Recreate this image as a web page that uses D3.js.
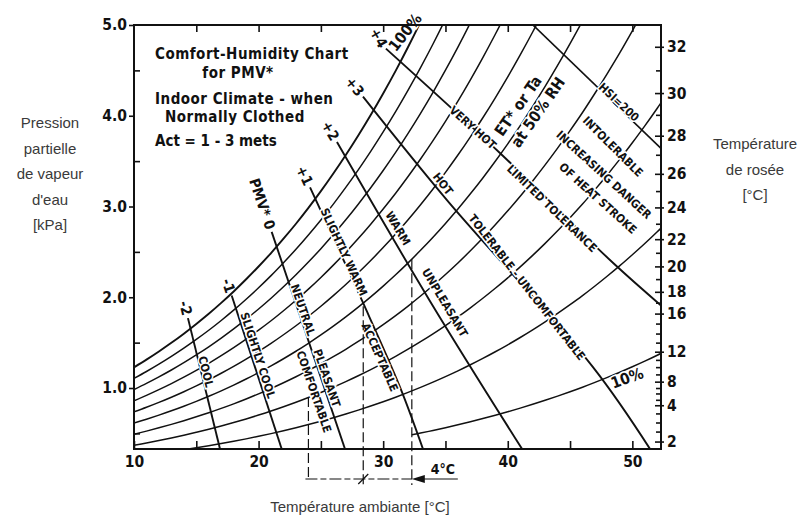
<!DOCTYPE html>
<html><head><meta charset="utf-8">
<script src="https://cdn.jsdelivr.net/npm/d3@7/dist/d3.min.js"></script>
<style>body{margin:0;background:#fff}svg{display:block}</style>
</head><body>
<svg id="c" width="812" height="518"></svg>
<script>
// ---------- data ----------
const tempTicks = [10, 20, 30, 40, 50];
const tempAllTicks = [10, 15, 20, 25, 30, 35, 40, 45, 50];
const pressTicks = [1.0, 2.0, 3.0, 4.0, 5.0];
const pressMinor = [0.5, 1.5, 2.5, 3.5, 4.5];
const dewLabels = ["32","30","28","26","24","22","20","18","16","12","8","4","2"];
const dewKPa = [4.76, 4.25, 3.78, 3.36, 2.99, 2.64, 2.34, 2.06, 1.82, 1.40, 1.07, 0.81, 0.41];
const dewMinorKPa = [4.50, 4.01, 3.57, 3.17, 2.81, 2.49, 2.20, 1.94, 1.71, 1.60, 1.50, 1.31, 1.23, 1.15, 1.00, 0.94, 0.87, 0.72, 0.62, 0.52];
// saturation vapour pressure table (kPa)
const satT = [10,11,12,13,14,15,16,17,18,19,20,21,22,23,24,25,26,27,28,29,30,31,32,33,34,35,36,37,38,39,40,41,42,43,44,45,46,47,48,49,50,51,52,53];
const satP = [1.228,1.313,1.403,1.498,1.599,1.706,1.818,1.938,2.064,2.198,2.339,2.487,2.645,2.810,2.985,3.169,3.363,3.567,3.782,4.008,4.246,4.495,4.758,5.034,5.323,5.627,5.945,6.280,6.630,6.997,7.381,7.784,8.205,8.646,9.108,9.590,10.09,10.62,11.17,11.74,12.34,12.96,13.61,14.29];
const rhLevels = [100, 90, 80, 70, 60, 50, 40, 30, 20, 10];
const rhStartT = [10, 10, 10, 10, 10, 10, 10, 10, 10, 32.3];
// PMV* lines (T °C, p kPa)
const pmvNames = ["-2", "-1", "PMV* 0", "+1", "+2", "+3", "+4"];
const pmvLines = [
  [[14.33, 1.77], [16.90, 0.33]],
  [[17.84, 2.02], [21.85, 0.33]],
  [[21.05, 2.72], [26.93, 0.33]],
  [[24.13, 3.21], [28.38, 1.94], [31.35, 1.01], [33.19, 0.33]],
  [[26.29, 3.71], [33.75, 1.96], [41.14, 0.33]],
  [[28.38, 4.21], [35.12, 3.07], [46.84, 1.23], [51.41, 0.33]],
  [[30.22, 4.74], [39.37, 3.59], [48.44, 2.38], [52.3, 1.91]]
];
const hsiLine = [[42.02, 5.0], [52.3, 3.64]];
const dashT = [24.0, 28.4, 32.3];
const dashTopP = [0.90, 1.90, 2.42];
const titleLines = ["Comfort-Humidity Chart", "for PMV*", "Indoor Climate - when", "Normally Clothed", "Act = 1 - 3 mets"];
// zone texts: text, T, p, angle
const zoneText = [
  ["COOL", 15.78, 1.18, 76],
  ["SLIGHTLY COOL", 19.95, 1.36, 72],
  ["NEUTRAL", 23.56, 1.86, 71],
  ["PLEASANT", 25.49, 1.11, 71],
  ["COMFORTABLE", 24.45, 0.96, 71],
  ["SLIGHTLY WARM", 26.85, 2.50, 65],
  ["ACCEPTABLE", 29.74, 1.34, 66],
  ["WARM", 31.19, 2.76, 59],
  ["UNPLEASANT", 34.96, 1.94, 59],
  ["HOT", 34.8, 3.25, 51],
  ["TOLERABLE - UNCOMFORTABLE", 41.54, 2.11, 52],
  ["VERY HOT", 37.2, 3.87, 42],
  ["LIMITED TOLERANCE", 43.55, 2.98, 44],
  ["INTOLERABLE", 48.44, 3.66, 45],
  ["INCREASING DANGER", 47.72, 3.35, 42.5],
  ["OF HEAT STROKE", 47.24, 3.09, 42],
  ["HSI=200", 48.92, 4.15, 43]
];
const bigText = [
  ["ET* or Ta", 40.82, 4.11, -55],
  ["at 50% RH", 42.42, 4.04, -55],
  ["100%", 31.75, 4.92, -52],
  ["10%", 49.57, 1.11, -20]
];

// ---------- drawing ----------
const svg = d3.select("#c");
const x = d3.scaleLinear().domain([10, 52.3]).range([134, 661]);
const y = d3.scaleLinear().domain([0.328, 5.0]).range([449, 25]);
const ink = "#111";
const letter = "'DejaVu Sans Condensed','DejaVu Sans',sans-serif";
const plain = "'Liberation Sans',Arial,sans-serif";
const [x0, x1] = x.range(), [y0, y1] = y.range();

svg.append("clipPath").attr("id", "plot").append("rect")
  .attr("x", x0).attr("y", y1).attr("width", x1 - x0).attr("height", y0 - y1);

const line = d3.line().x(d => x(d[0])).y(d => y(d[1]));
const smooth = d3.line().x(d => x(d[0])).y(d => y(d[1])).curve(d3.curveCatmullRom);

// RH curves
const satAt = t => {
  const i = Math.min(satT.length - 2, Math.max(0, d3.bisectRight(satT, t) - 1));
  const f = (t - satT[i]) / (satT[i + 1] - satT[i]);
  return satP[i] + f * (satP[i + 1] - satP[i]);
};
const gRH = svg.append("g").attr("clip-path", "url(#plot)");
rhLevels.forEach((rh, k) => {
  const s = rhStartT[k];
  const pts = [[s, rh / 100 * satAt(s)]].concat(
    satT.filter(t => t > s).map(t => [t, rh / 100 * satAt(t)]));
  gRH.append("path").attr("d", smooth(pts)).attr("fill", "none")
    .attr("stroke", ink).attr("stroke-width", rh === 100 ? 1.9 : 1.5);
});

// PMV lines
const gP = svg.append("g").attr("clip-path", "url(#plot)");
pmvLines.forEach(pts => {
  gP.append("path").attr("d", smooth(pts)).attr("fill", "none")
    .attr("stroke", ink).attr("stroke-width", 1.9);
});
gP.append("path").attr("d", line(hsiLine)).attr("fill", "none")
  .attr("stroke", ink).attr("stroke-width", 1.7);

// PMV labels at top ends
pmvLines.forEach((pts, i) => {
  const ax = x(pts[0][0]), ay = y(pts[0][1]);
  const bx = x(pts[1][0]), by = y(pts[1][1]);
  const ang = Math.atan2(by - ay, bx - ax);
  const deg = ang * 180 / Math.PI;
  const px = ax - 3 * Math.cos(ang), py = ay - 3 * Math.sin(ang);
  svg.append("text").text(pmvNames[i])
    .attr("transform", `translate(${px},${py}) rotate(${i === 6 ? 60 : deg})`)
    .attr("text-anchor", "end").attr("dy", "0.35em")
    .attr("font-family", letter).attr("font-weight", "bold")
    .attr("font-size", 14.5).attr("fill", ink);
});

// zone texts
zoneText.forEach(([t, T, p, a]) => {
  svg.append("text").text(t)
    .attr("transform", `translate(${x(T)},${y(p)}) rotate(${a})`)
    .attr("text-anchor", "middle").attr("dy", "0.35em")
    .attr("font-family", letter).attr("font-weight", "bold")
    .attr("font-size", 11.5).attr("fill", ink)
    .attr("stroke", "#fff").attr("stroke-width", 3).attr("paint-order", "stroke");
});
bigText.forEach(([t, T, p, a]) => {
  svg.append("text").text(t)
    .attr("transform", `translate(${x(T)},${y(p)}) rotate(${a})`)
    .attr("text-anchor", "middle").attr("dy", "0.35em")
    .attr("font-family", letter).attr("font-weight", "bold")
    .attr("font-size", 15.5).attr("fill", ink)
    .attr("stroke", "#fff").attr("stroke-width", 3).attr("paint-order", "stroke");
});

// dashed verticals + bracket
const gD = svg.append("g").attr("stroke", ink).attr("stroke-width", 1.2).attr("fill", "none");
dashT.forEach((t, i) => {
  gD.append("line").attr("x1", x(t)).attr("x2", x(t))
    .attr("y1", y(dashTopP[i])).attr("y2", y0 + (i === 0 ? 30 : 36))
    .attr("stroke-dasharray", "10,4");
});
const by = y0 + 30;
gD.append("line").attr("x1", x(dashT[0]) - 3).attr("x2", x(dashT[2]))
  .attr("y1", by).attr("y2", by).attr("stroke-dasharray", "12,3,6,3");
gD.append("line").attr("x1", x(dashT[1]) - 5).attr("x2", x(dashT[1]) + 5)
  .attr("y1", by + 5).attr("y2", by - 5);
gD.append("line").attr("x1", x(dashT[2]) + 12).attr("x2", x(dashT[2]) + 46)
  .attr("y1", by).attr("y2", by);
svg.append("path").attr("fill", ink)
  .attr("d", `M${x(dashT[2])},${by} l13,-4 l0,8 z`);
svg.append("text").text("4°C").attr("x", x(dashT[2]) + 31).attr("y", by - 5)
  .attr("text-anchor", "middle").attr("font-family", letter).attr("font-weight", "bold")
  .attr("font-size", 14).attr("fill", ink);

// frame
svg.append("rect").attr("x", x0).attr("y", y1).attr("width", x1 - x0).attr("height", y0 - y1)
  .attr("fill", "none").attr("stroke", ink).attr("stroke-width", 2);

// axes
function styleAxis(g, size) {
  g.select(".domain").remove();
  g.selectAll(".tick line").attr("stroke", ink).attr("stroke-width", 1.6);
  g.selectAll(".tick text").attr("font-family", letter).attr("font-weight", "bold")
    .attr("font-size", size).attr("fill", ink);
}
const gl = svg.append("g").attr("transform", `translate(${x0},0)`)
  .call(d3.axisLeft(y).tickValues(pressTicks).tickFormat(d3.format(".1f")).tickSize(5).tickPadding(2));
styleAxis(gl, 15.5);
const glm = svg.append("g").attr("transform", `translate(${x0},0)`)
  .call(d3.axisLeft(y).tickValues(pressMinor).tickFormat("").tickSize(-6));
styleAxis(glm, 15);
const gb = svg.append("g").attr("transform", `translate(0,${y0})`)
  .call(d3.axisBottom(x).tickValues(tempAllTicks)
    .tickFormat(d => tempTicks.includes(d) ? d : "").tickSize(-8).tickPadding(7));
styleAxis(gb, 15.5);
const gt = svg.append("g").attr("transform", `translate(0,${y1})`)
  .call(d3.axisTop(x).tickValues(tempAllTicks.slice(1)).tickFormat("").tickSize(-7));
styleAxis(gt, 15);
const gr = svg.append("g").attr("transform", `translate(${x1},0)`)
  .call(d3.axisRight(y).tickValues(dewKPa).tickFormat((d, i) => dewLabels[i]).tickSize(-6).tickPadding(6));
styleAxis(gr, 15.5);
gr.selectAll(".tick line").attr("x1", 3);
const grm = svg.append("g").attr("transform", `translate(${x1},0)`)
  .call(d3.axisRight(y).tickValues(dewMinorKPa).tickFormat("").tickSize(-5));
styleAxis(grm, 15);

// title block
const tb = [[155, 59, "start"], [238, 78, "middle"], [155, 104, "start"], [165, 122, "start"], [155, 146, "start"]];
titleLines.forEach((t, i) => {
  svg.append("text").text(t).attr("x", tb[i][0]).attr("y", tb[i][1])
    .attr("text-anchor", tb[i][2]).attr("font-family", letter).attr("font-weight", "bold")
    .attr("font-size", 15).attr("letter-spacing", i === 4 ? 0 : 0.5).attr("fill", ink);
});

// axis titles
const leftTitle = ["Pression", "partielle", "de vapeur", "d'eau", "[kPa]"];
leftTitle.forEach((t, i) => svg.append("text").text(t).attr("x", 50).attr("y", 128 + i * 25.5)
  .attr("text-anchor", "middle").attr("font-family", plain).attr("font-size", 15).attr("fill", "#3a3a3a"));
const rightTitle = ["Température", "de rosée", "[°C]"];
rightTitle.forEach((t, i) => svg.append("text").text(t).attr("x", 755).attr("y", 149 + i * 25.5)
  .attr("text-anchor", "middle").attr("font-family", plain).attr("font-size", 15).attr("fill", "#3a3a3a"));
svg.append("text").text("Température ambiante [°C]").attr("x", 360).attr("y", 512)
  .attr("text-anchor", "middle").attr("font-family", plain).attr("font-size", 15).attr("fill", "#3a3a3a");
</script>
</body></html>
